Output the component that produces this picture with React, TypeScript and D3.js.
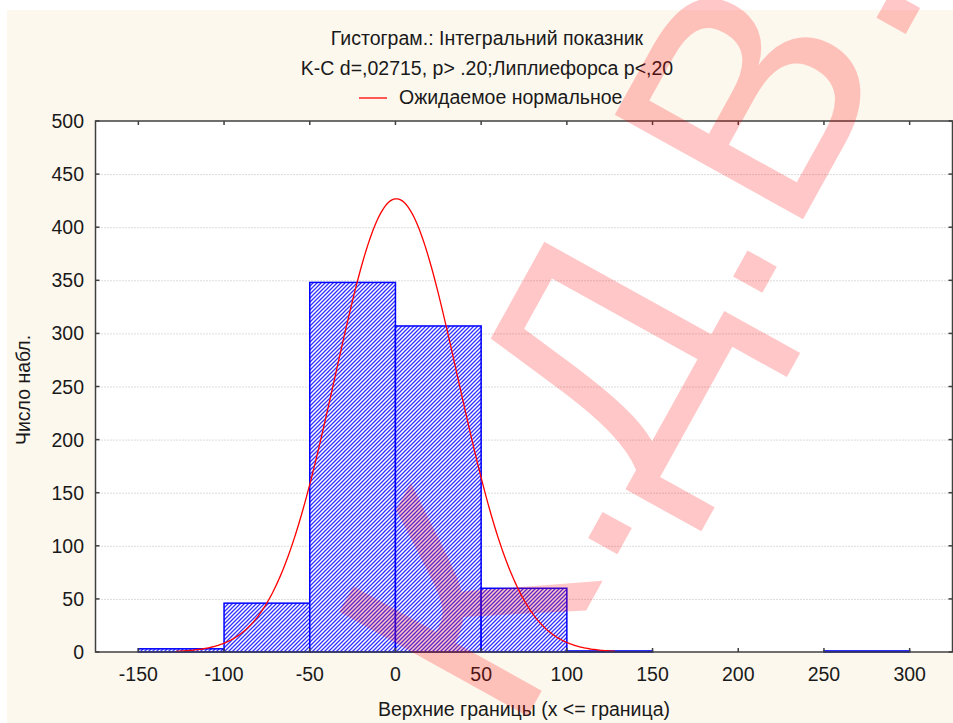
import * as React from 'react';
import * as d3 from 'd3';

// histogram bins: upper bounds (x <= bound) and observed counts
const binUpper: number[] = [-100, -50, 0, 50, 100, 150, 200, 250, 300];
const binCounts: number[] = [3, 46, 348, 307, 60, 1, 0, 0, 1];
const binWidth = 50;

// fitted normal parameters
const normalMean = 0.5;
const normalSd = 35.8;
const normalRange: [number, number] = [-128, 128];

const xTicks: number[] = [-150, -100, -50, 0, 50, 100, 150, 200, 250, 300];
const yTicks: number[] = [0, 50, 100, 150, 200, 250, 300, 350, 400, 450, 500];

const titleLines: string[] = ['Гистограм.: Інтегральний показник', 'K-C d=,02715, p> .20;Липлиефорса p<,20'];
const legendLabel = 'Ожидаемое нормальное';
const xLabel = 'Верхние границы (x <= граница)';
const yLabel = 'Число набл.';
const watermark = 'К.Д.В.';

const W = 953;
const H = 723;
const FONT = '"Liberation Sans", Arial, sans-serif';
const TEXT = '#1a1a1a';

const App: React.FC = () => {
	const ref = React.useRef<SVGSVGElement>(null);

	React.useEffect(() => {
		const svg = d3.select(ref.current);
		svg.selectAll('*').remove();

		const plot = { left: 95.5, right: 952.5, top: 121, bottom: 652 };
		const x = d3.scaleLinear().domain([-175, 325]).range([plot.left, plot.right]);
		const y = d3.scaleLinear().domain([0, 500]).range([plot.bottom, plot.top]);

		// hatch pattern for bars (8px tile, two diagonal stripes)
		const defs = svg.append('defs');
		const pat = defs
			.append('pattern')
			.attr('id', 'hatch')
			.attr('patternUnits', 'userSpaceOnUse')
			.attr('width', 8)
			.attr('height', 8);
		pat.append('rect').attr('width', 8).attr('height', 8).attr('fill', '#ffffff');
		pat
			.append('path')
			.attr('d', 'M-2,2 L2,-2 M-2,6 L6,-2 M-2,10 L10,-2 M2,10 L10,2 M6,10 L10,6')
			.attr('stroke', '#3030ff')
			.attr('stroke-width', 1.3);

		// cream background and white plot area
		svg.append('rect').attr('x', 7).attr('y', 10).attr('width', W - 7).attr('height', H - 10).attr('fill', '#fdf8ee');
		svg
			.append('rect')
			.attr('x', plot.left)
			.attr('y', plot.top)
			.attr('width', plot.right - plot.left)
			.attr('height', plot.bottom - plot.top)
			.attr('fill', '#fff');

		// horizontal dotted grid
		svg
			.append('g')
			.selectAll('line')
			.data(yTicks.filter((t) => t > 0 && t < 500))
			.enter()
			.append('line')
			.attr('x1', plot.left)
			.attr('x2', plot.right)
			.attr('y1', (d) => y(d) + 0.5)
			.attr('y2', (d) => y(d) + 0.5)
			.attr('stroke', '#b8b8b8')
			.attr('stroke-width', 1)
			.attr('stroke-dasharray', '1,2');

		// bars
		const bins = binUpper.map((u, i) => ({ lo: u - binWidth, hi: u, n: binCounts[i] })).filter((b) => b.n > 0);
		svg
			.append('g')
			.selectAll('rect')
			.data(bins)
			.enter()
			.append('rect')
			.attr('x', (d) => x(d.lo))
			.attr('y', (d) => y(d.n))
			.attr('width', (d) => x(d.hi) - x(d.lo))
			.attr('height', (d) => y(0) - y(d.n))
			.attr('fill', 'url(#hatch)')
			.attr('stroke', '#0000ff')
			.attr('stroke-width', 1.5);

		// expected normal curve
		const total = d3.sum(binCounts);
		const expected = (v: number) =>
			((total * binWidth) / (normalSd * Math.sqrt(2 * Math.PI))) * Math.exp(-((v - normalMean) ** 2) / (2 * normalSd * normalSd));
		const pts = d3.range(normalRange[0], normalRange[1] + 0.5, 1).map((v) => [v, expected(v)] as [number, number]);
		svg
			.append('path')
			.attr('d', d3.line<[number, number]>().x((d) => x(d[0])).y((d) => y(d[1]))(pts) as string)
			.attr('fill', 'none')
			.attr('stroke', '#ff0000')
			.attr('stroke-width', 1.3);

		// frame and inward ticks
		const frame = svg.append('g').attr('stroke', '#404040').attr('stroke-width', 1.5);
		frame
			.append('rect')
			.attr('x', plot.left)
			.attr('y', plot.top)
			.attr('width', plot.right - plot.left)
			.attr('height', plot.bottom - plot.top)
			.attr('fill', 'none');
		xTicks.forEach((t) => {
			frame.append('line').attr('x1', x(t)).attr('x2', x(t)).attr('y1', plot.bottom).attr('y2', plot.bottom - 4);
			frame.append('line').attr('x1', x(t)).attr('x2', x(t)).attr('y1', plot.top).attr('y2', plot.top + 4);
		});
		yTicks.forEach((t) => {
			frame.append('line').attr('x1', plot.left).attr('x2', plot.left + 4).attr('y1', y(t)).attr('y2', y(t));
			frame.append('line').attr('x1', plot.right).attr('x2', plot.right - 4).attr('y1', y(t)).attr('y2', y(t));
		});

		const text = svg.append('g').attr('font-family', FONT).attr('font-size', 19.5).attr('fill', TEXT);

		// tick labels
		xTicks.forEach((t) => {
			text.append('text').attr('x', x(t)).attr('y', 681).attr('text-anchor', 'middle').text(String(t));
		});
		yTicks.forEach((t) => {
			text
				.append('text')
				.attr('x', 84)
				.attr('y', y(t))
				.attr('dy', '0.36em')
				.attr('text-anchor', 'end')
				.text(String(t));
		});

		// titles
		titleLines.forEach((s, i) => {
			text
				.append('text')
				.attr('x', 487)
				.attr('y', 45 + i * 30)
				.attr('text-anchor', 'middle')
				.text(s);
		});

		// legend
		svg.append('line').attr('x1', 359).attr('x2', 387).attr('y1', 98).attr('y2', 98).attr('stroke', '#ff0000').attr('stroke-width', 1.3);
		text.append('text').attr('x', 399).attr('y', 104).text(legendLabel);

		// axis titles
		text.append('text').attr('x', 524).attr('y', 716).attr('text-anchor', 'middle').text(xLabel);
		text
			.append('text')
			.attr('transform', 'translate(30,390) rotate(-90)')
			.attr('text-anchor', 'middle')
			.text(yLabel);

		// watermark over everything
		svg
			.append('text')
			.attr('transform', 'translate(934,-17) rotate(-61)')
			.attr('text-anchor', 'end')
			.attr('font-family', FONT)
			.attr('font-size', 313)
			.attr('fill', '#ff0000')
			.attr('fill-opacity', 0.22)
			.text(watermark);
	}, []);

	return <svg ref={ref} width={W} height={H} style={{ position: 'absolute', left: 0, top: 0, background: '#fff' }} />;
};

export default App;
